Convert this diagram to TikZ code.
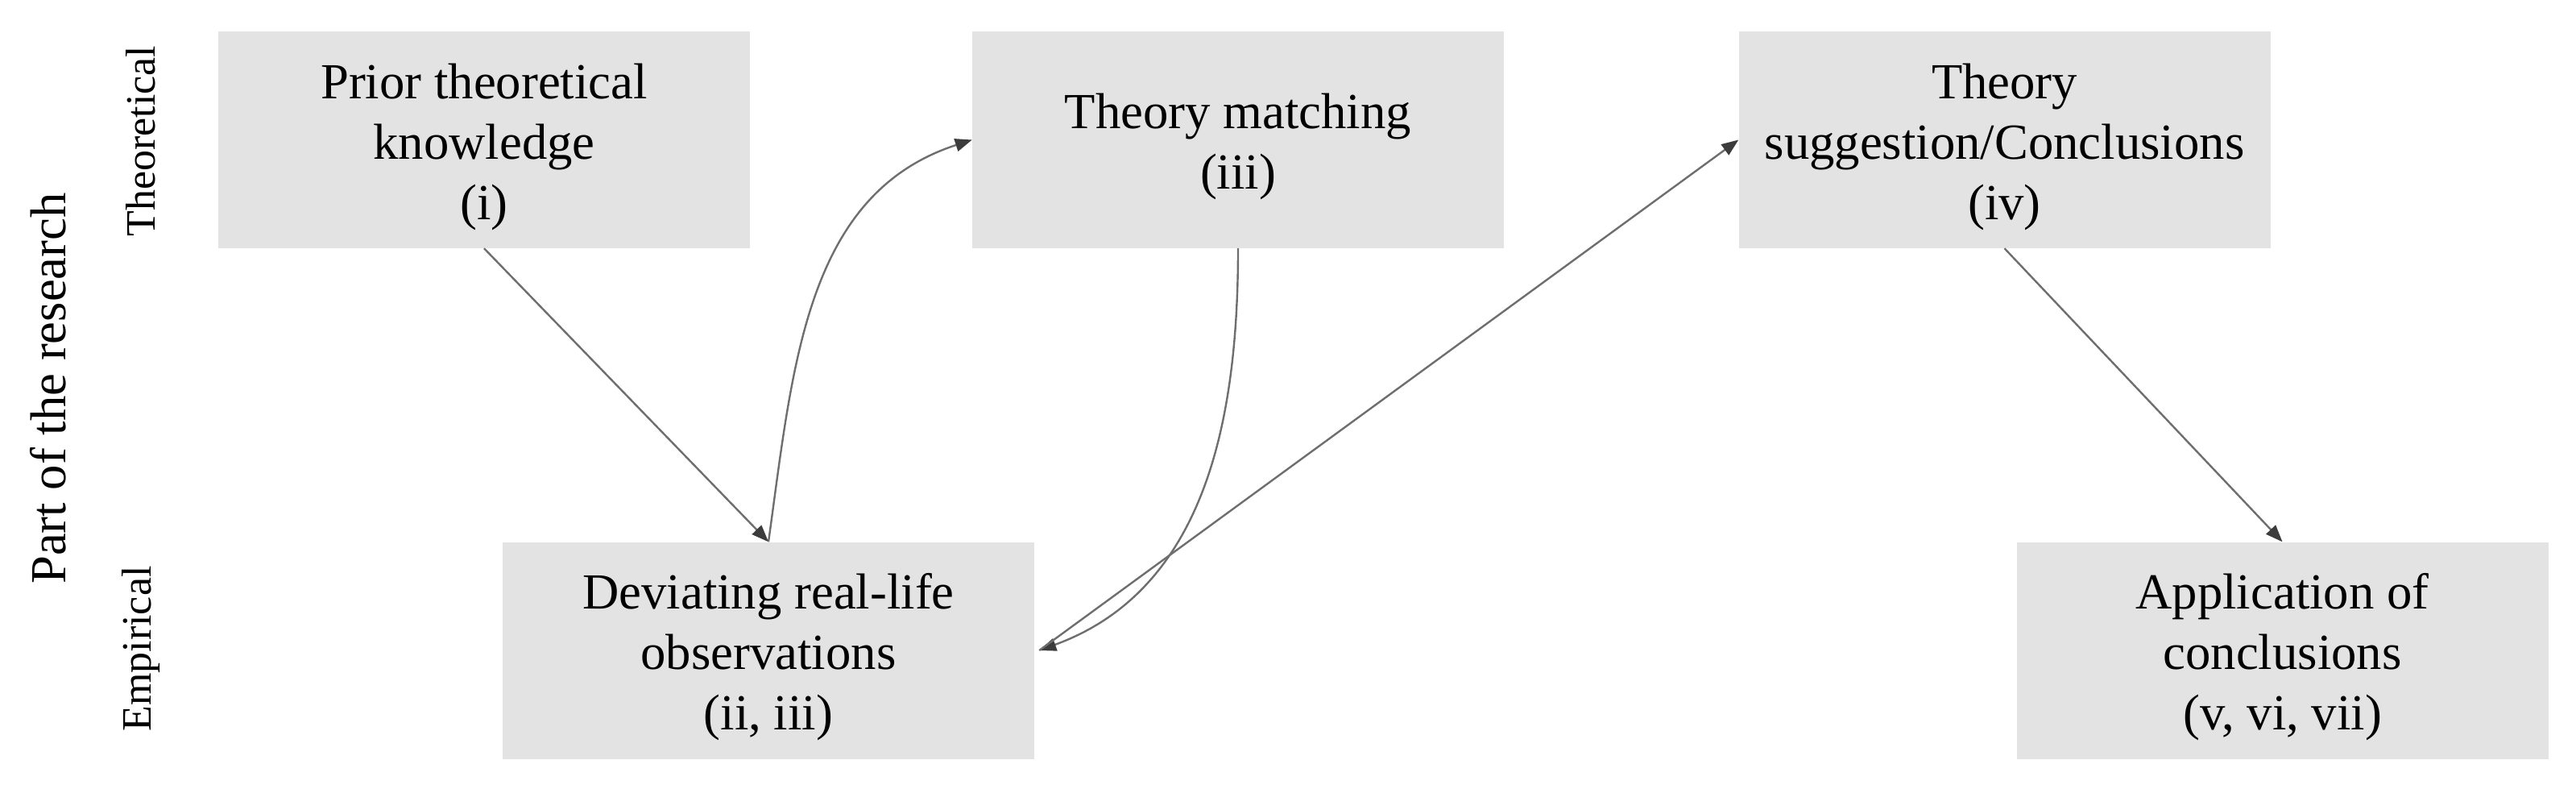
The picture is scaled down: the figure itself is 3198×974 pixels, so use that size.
\documentclass[tikz,border=0pt]{standalone}
\usepackage{fontspec}
\setmainfont{Liberation Serif}
\usetikzlibrary{arrows.meta}
\definecolor{boxfill}{RGB}{227,227,227}
\definecolor{linec}{RGB}{110,110,110}
\definecolor{tipc}{RGB}{60,60,60}
\tikzset{
  stagebox/.style={fill=boxfill, draw=none, minimum width=660pt, minimum height=269pt, inner sep=0pt},
  stagetext/.style={align=center, inner sep=0pt, yshift=-8.5pt, font=\fontsize{62.7pt}{75pt}\selectfont},
  sidebig/.style={rotate=90, inner sep=0pt, font=\fontsize{62.7pt}{75pt}\selectfont},
  sidesmall/.style={rotate=90, inner sep=0pt, font=\fontsize{52pt}{62pt}\selectfont},
  conn/.style={draw=linec, line width=2.4pt, -{Triangle[length=21pt,width=16pt,color=tipc]}},
  plainconn/.style={draw=linec, line width=2.4pt}
}
\begin{document}
\begin{tikzpicture}[x=1pt,y=1pt]
\useasboundingbox (0,0) rectangle (3198,-974);
% boxes
\node[stagebox] (b1) at (601,-173.5) {};
\node[stagebox] (b2) at (1537,-173.5) {};
\node[stagebox] (b3) at (2488.5,-173.5) {};
\node[stagebox] (b4) at (954,-807) {};
\node[stagebox] (b5) at (2833.5,-807) {};
% texts
\node[stagetext] (t1) at (b1.center) {Prior theoretical\\knowledge\\(i)};
\node[stagetext] (t2) at (b2.center) {Theory matching\\(iii)};
\node[stagetext] (t3) at (b3.center) {Theory\\suggestion/Conclusions\\(iv)};
\node[stagetext] (t4) at (b4.center) {Deviating real-life\\observations\\(ii, iii)};
\node[stagetext] (t5) at (b5.center) {Application of\\conclusions\\(v, vi, vii)};
% side labels
\node[sidebig] (part) at (60,-482) {Part of the research};
\node[sidesmall] (theo) at (175,-175) {Theoretical};
\node[sidesmall] (emp) at (175,-805) {Empirical};
% connectors
\draw[conn] (b1.south) -- (b4.north);
\draw[conn] (b4.north) to[out=82,in=198] (b2.west);
\draw[conn] (b2.south) to[out=-90,in=20] ([xshift=6pt]b4.east);
\draw[conn] ([xshift=6pt]b4.east) -- (b3.west);
\draw[conn] (b3.south) -- (b5.north);
\end{tikzpicture}
\end{document}
